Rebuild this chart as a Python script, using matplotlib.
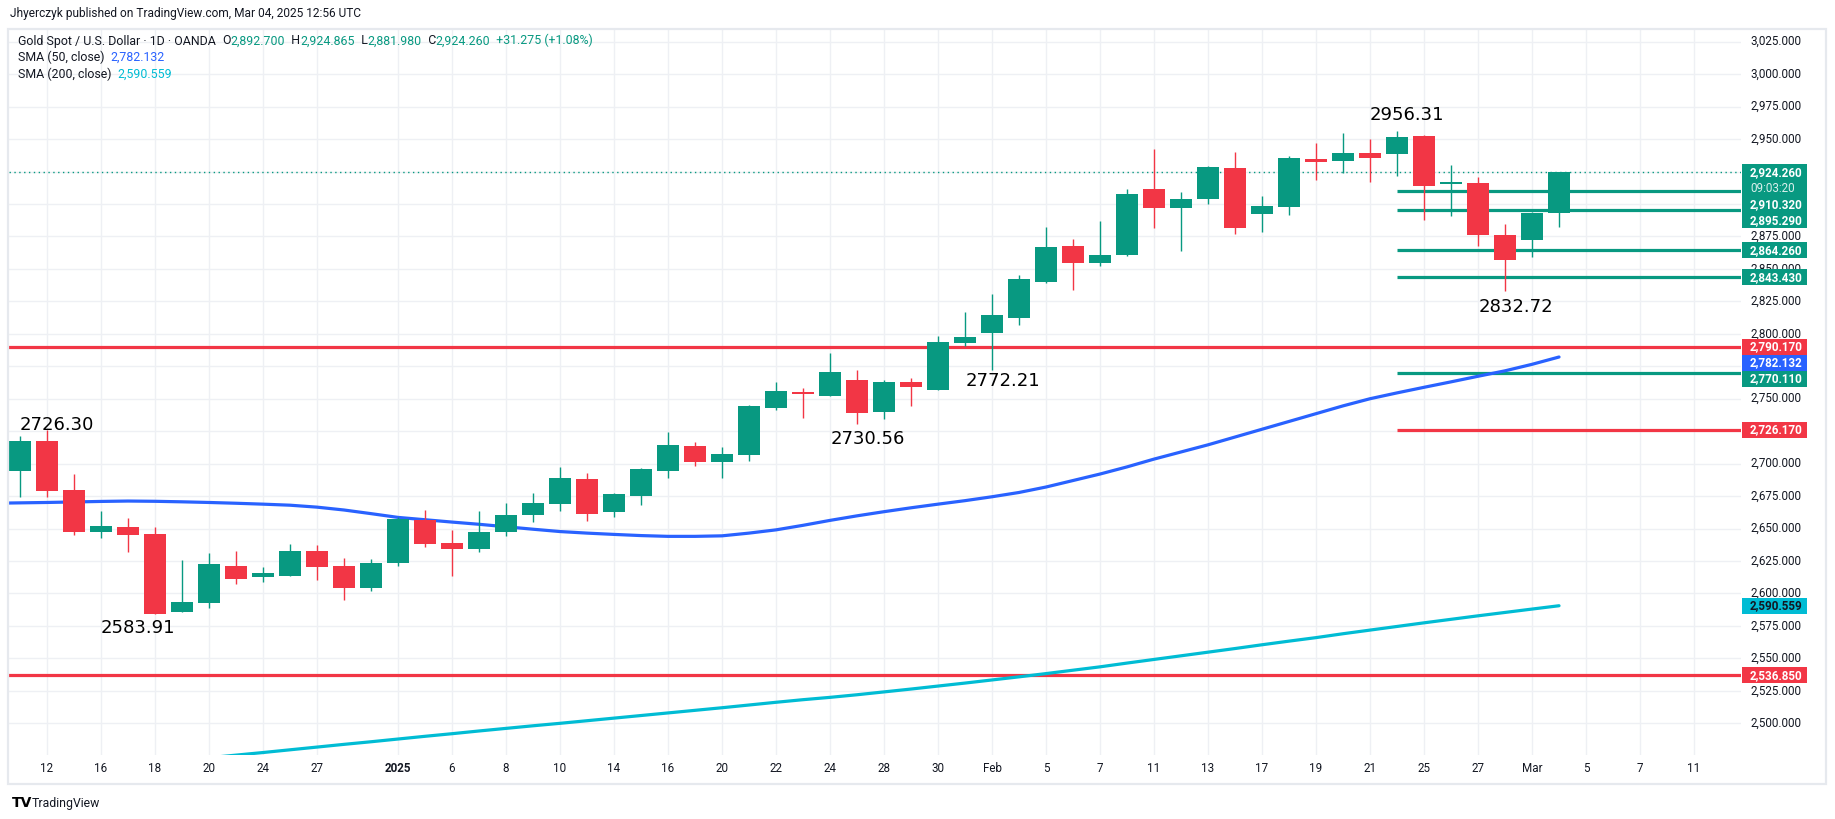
import matplotlib
matplotlib.use('Agg')
import matplotlib.pyplot as plt
from matplotlib.patches import Rectangle
from matplotlib.transforms import offset_copy

# ---------------- data ----------------
dates = (['2024-12-%02d' % d for d in [11, 12, 13, 16, 17, 18, 19, 20, 23, 24, 26, 27, 30, 31]] +
         ['2025-01-%02d' % d for d in [2, 3, 6, 7, 8, 9, 10, 13, 14, 15, 16, 17, 20, 21, 22, 23, 24, 27, 28, 29, 30, 31]] +
         ['2025-02-%02d' % d for d in [3, 4, 5, 6, 7, 10, 11, 12, 13, 14, 17, 18, 19, 20, 21, 24, 25, 26, 27, 28]] +
         ['2025-03-03', '2025-03-04'])
future_dates = ['2025-03-05', '2025-03-06', '2025-03-07', '2025-03-10', '2025-03-11']

opens = [2694.0, 2717.4, 2679.7, 2647.6, 2651.2, 2645.8, 2586.0, 2592.9, 2621.2, 2612.9,
         2613.7, 2632.7, 2621.2, 2604.5, 2623.7, 2656.8, 2638.9, 2634.5, 2647.6, 2660.7,
         2669.1, 2688.2, 2663.0, 2675.3, 2694.6, 2713.6, 2701.5, 2706.9, 2743.1, 2755.2,
         2752.3, 2764.4, 2740.0, 2762.9, 2757.0, 2793.2, 2800.9, 2812.4, 2840.1, 2867.6,
         2854.8, 2860.9, 2911.5, 2897.1, 2904.1, 2927.7, 2892.5, 2897.9, 2934.7, 2933.3,
         2939.3, 2938.7, 2952.6, 2915.6, 2916.4, 2876.1, 2872.3, 2892.7]
highs = [2721.0, 2726.3, 2692.0, 2663.5, 2658.0, 2651.2, 2625.8, 2631.2, 2632.7, 2620.4,
         2638.1, 2637.3, 2627.3, 2626.6, 2659.1, 2664.3, 2648.9, 2663.5, 2669.7, 2677.4,
         2697.4, 2692.8, 2677.4, 2696.9, 2724.4, 2716.7, 2712.8, 2745.2, 2762.9, 2758.3,
         2785.2, 2772.1, 2764.4, 2766.0, 2798.3, 2816.8, 2830.7, 2845.3, 2882.3, 2873.0,
         2886.9, 2911.5, 2942.4, 2909.2, 2929.3, 2940.1, 2906.2, 2937.0, 2947.1, 2954.8,
         2950.3, 2956.31, 2953.1, 2930.0, 2920.5, 2884.6, 2894.1, 2924.865]
lows = [2674.5, 2674.5, 2645.0, 2643.0, 2632.2, 2583.91, 2585.5, 2589.0, 2607.5, 2609.0,
        2613.2, 2610.4, 2595.0, 2602.2, 2621.4, 2636.1, 2613.7, 2632.2, 2644.5, 2655.3,
        2663.8, 2656.1, 2659.1, 2668.4, 2689.2, 2698.4, 2689.2, 2702.3, 2741.5, 2735.4,
        2751.8, 2730.56, 2734.6, 2744.6, 2756.5, 2790.8, 2772.21, 2807.0, 2839.4, 2834.0,
        2852.5, 2860.2, 2881.7, 2864.0, 2900.2, 2877.1, 2878.7, 2891.7, 2918.7, 2924.1,
        2917.2, 2921.8, 2887.7, 2890.7, 2867.6, 2832.72, 2858.9, 2881.98]
closes = [2717.4, 2679.2, 2647.6, 2652.0, 2645.0, 2584.5, 2593.4, 2622.7, 2611.4, 2615.6,
          2632.7, 2620.6, 2604.5, 2623.5, 2657.4, 2638.1, 2634.5, 2647.4, 2660.4, 2669.7,
          2689.0, 2661.5, 2676.6, 2695.9, 2714.4, 2701.5, 2707.5, 2744.4, 2756.0, 2753.9,
          2770.6, 2739.2, 2762.9, 2759.3, 2793.7, 2797.8, 2814.5, 2842.0, 2866.9, 2854.8,
          2860.7, 2907.7, 2897.1, 2903.8, 2928.5, 2881.7, 2898.4, 2935.4, 2932.6, 2939.3,
          2935.7, 2951.8, 2914.1, 2916.2, 2876.1, 2856.9, 2892.8, 2924.26]

# SMA 50 starts one bar before the first visible candle (2024-12-10)
sma50_start_offset = -1
sma50 = [2669.5, 2669.8, 2670.1, 2670.5, 2670.9, 2671.2, 2671.0, 2670.6, 2670.1, 2669.5,
         2668.8, 2668.0, 2666.5, 2664.3, 2661.5, 2658.6, 2656.8, 2655.0, 2653.3, 2651.4,
         2649.5, 2647.7, 2646.5, 2645.5, 2644.6, 2644.0, 2644.0, 2644.4, 2646.5, 2649.0,
         2652.5, 2656.3, 2659.8, 2663.0, 2666.0, 2668.8, 2671.5, 2674.5, 2677.8, 2682.0,
         2687.0, 2692.0, 2697.5, 2703.5, 2709.0, 2714.5, 2720.5, 2726.5, 2732.5, 2738.5,
         2744.5, 2750.0, 2754.5, 2758.8, 2763.0, 2767.3, 2771.5, 2776.5, 2782.132]
# SMA 200 values from bar index 7 onward (earlier part lies below the visible range)
sma200_start = 7
sma200 = [2473.5, 2475.5, 2477.5, 2479.6, 2481.7, 2483.8, 2485.8, 2487.9, 2490.0, 2492.0,
          2494.1, 2496.1, 2498.1, 2500.0, 2502.0, 2504.0, 2506.0, 2508.0, 2510.0, 2512.0,
          2514.1, 2516.2, 2518.2, 2520.0, 2522.0, 2524.2, 2526.4, 2528.7, 2531.0, 2533.4,
          2535.8, 2538.3, 2540.9, 2543.5, 2546.4, 2549.2, 2552.0, 2554.8, 2557.6, 2560.5,
          2563.3, 2566.0, 2569.0, 2571.8, 2574.6, 2577.4, 2580.1, 2582.8, 2585.4, 2588.0,
          2590.559]

red_full_levels = [2790.17, 2536.85]
green_levels = [2910.32, 2895.29, 2864.26, 2843.43, 2770.11]
red_partial_levels = [2726.17]
levels_start_date = '2025-02-24'

annot_dates = ['2024-12-12', '2024-12-18', '2025-01-27', '2025-02-03', '2025-02-24', '2025-02-28']
annot_kinds = ['high', 'low', 'low', 'low', 'high', 'low']
annot_values = [2726.30, 2583.91, 2730.56, 2772.21, 2956.31, 2832.72]

tick_dates = ['2024-12-12', '2024-12-16', '2024-12-18', '2024-12-20', '2024-12-24', '2024-12-27',
              '2025-01-02', '2025-01-06', '2025-01-08', '2025-01-10', '2025-01-14', '2025-01-16',
              '2025-01-20', '2025-01-22', '2025-01-24', '2025-01-28', '2025-01-30', '2025-02-03',
              '2025-02-05', '2025-02-07', '2025-02-11', '2025-02-13', '2025-02-17', '2025-02-19',
              '2025-02-21', '2025-02-25', '2025-02-27', '2025-03-03', '2025-03-05', '2025-03-07',
              '2025-03-11']
tick_labels = ['12', '16', '18', '20', '24', '27', '2025', '6', '8', '10', '14', '16', '20', '22',
               '24', '28', '30', 'Feb', '5', '7', '11', '13', '17', '19', '21', '25', '27', 'Mar',
               '5', '7', '11']
price_ticks = list(range(2500, 3026, 25))

countdown = '09:03:20'
change_abs = 31.275
change_pct = 1.08

# ---------------- style ----------------
GREEN = '#089981'
RED = '#F23645'
BLUE = '#2962FF'
CYAN = '#00BCD4'
TXT = '#131722'
GRID = '#EEF0F4'
FONT = ['Roboto', 'DejaVu Sans']
plt.rcParams['font.family'] = FONT

W, H, DPI = 1835, 819, 100
fig = plt.figure(figsize=(W / DPI, H / DPI), dpi=DPI)
fig.patch.set_facecolor('white')

PL, PT, PR, PB = 9, 30, 1741, 755
ax = fig.add_axes([PL / W, 1 - PB / H, (PR - PL) / W, (PB - PT) / H])
ax.set_xlim(-0.407, 63.74)
ax.set_ylim(2475.6, 3034.0)
for s in ax.spines.values():
    s.set_visible(False)
ax.set_xticks([])
ax.set_yticks([])

all_days = dates + future_dates
xs = list(range(len(dates)))

# grid
for p in price_ticks:
    ax.axhline(p, color=GRID, lw=1, zorder=0)
for d in tick_dates:
    ax.axvline(all_days.index(d), color=GRID, lw=1, zorder=0)

# levels
for v in red_full_levels:
    ax.axhline(v, color=RED, lw=2.3, zorder=3)
i0 = dates.index(levels_start_date)
for v in green_levels:
    ax.plot([i0, 70], [v, v], color=GREEN, lw=2.3, zorder=3, solid_capstyle='butt')
for v in red_partial_levels:
    ax.plot([i0, 70], [v, v], color=RED, lw=2.3, zorder=3, solid_capstyle='butt')

# current price dotted line
ax.axhline(closes[-1], color=GREEN, lw=1.0, ls=(0, (1, 2.5)), zorder=2)

# SMA lines
ax.plot([i + sma50_start_offset for i in range(len(sma50))], sma50, color=BLUE, lw=2.3, zorder=4,
        solid_capstyle='round')
ax.plot([sma200_start + i for i in range(len(sma200))], sma200, color=CYAN, lw=2.3, zorder=4,
        solid_capstyle='round')

# candles
for x, o, h, l, c in zip(xs, opens, highs, lows, closes):
    col = GREEN if c >= o else RED
    ax.vlines(x, l, h, color=col, lw=1.0, zorder=5)
    bot = min(o, c)
    hgt = max(abs(c - o), 1.6)
    if abs(c - o) < 1.6:
        bot = (o + c) / 2 - 0.8
    ax.bar(x, hgt, bottom=bot, width=0.78, color=col, linewidth=0, zorder=6)

# annotations of swing highs/lows
offsets = {2726.30: (10, 5), 2956.31: (10, 16), 2583.91: (-17, -14), 2730.56: (11, -15),
           2772.21: (11, -11), 2832.72: (11, -16)}
for d, k, v in zip(annot_dates, annot_kinds, annot_values):
    i = dates.index(d)
    yv = highs[i] if k == 'high' else lows[i]
    dx, dy = offsets[v]
    tr = offset_copy(ax.transData, fig=fig, x=dx, y=dy, units='dots')
    ax.text(i, yv, f'{v:.2f}', transform=tr, ha='center', va='center', fontsize=13,
            family='DejaVu Sans', color='black', zorder=8)

# ---------------- overlay in pixel coordinates ----------------
ov = fig.add_axes([0, 0, 1, 1], zorder=10)
ov.set_xlim(0, W)
ov.set_ylim(H, 0)
ov.axis('off')
ov.patch.set_alpha(0)

# frame
ov.add_patch(Rectangle((8, 29), 1818, 755, fill=False, edgecolor='#E6E9EE', lw=1.6))


def ypix(p):
    return H - ax.transData.transform((0, p))[1]


def xpix(i):
    return ax.transData.transform((i, 0))[0]


# price axis tick labels
for p in price_ticks:
    ov.text(1750, ypix(p), f'{p:,.3f}', fontsize=8.4, color=TXT, va='center', ha='left')

# time axis labels
for d, lab in zip(tick_dates, tick_labels):
    ov.text(xpix(all_days.index(d)), 769, lab, fontsize=8.4, color=TXT, ha='center', va='center',
            fontweight='bold' if lab == '2025' else 'normal')

# price tags (stacked so they do not overlap)
tags = [(closes[-1], GREEN, 'white', [f'{closes[-1]:,.3f}', countdown])]
tags += [(v, GREEN, 'white', [f'{v:,.3f}']) for v in green_levels]
tags += [(v, RED, 'white', [f'{v:,.3f}']) for v in red_full_levels + red_partial_levels]
tags += [(sma50[-1], BLUE, 'white', [f'{sma50[-1]:,.3f}']),
         (sma200[-1], CYAN, TXT, [f'{sma200[-1]:,.3f}'])]
tags.sort(key=lambda t: -t[0])
LH = 16
prev_bottom = -1e9
for v, col, tcol, lines in tags:
    top = max(ypix(v) - LH / 2, prev_bottom)
    hgt = LH * len(lines)
    ov.add_patch(Rectangle((1742, top), 65, hgt, facecolor=col, edgecolor='none', zorder=20))
    for k, line in enumerate(lines):
        ov.text(1750, top + LH / 2 + k * LH, line, fontsize=8.4, color=tcol, va='center', ha='left',
                fontweight='bold' if k == 0 else 'normal', alpha=1 if k == 0 else 0.85, zorder=21)
    prev_bottom = top + hgt

# header
ov.text(10, 14, 'Jhyerczyk published on TradingView.com, Mar 04, 2025 12:56 UTC', fontsize=8.6,
        color=TXT, va='center', ha='left')


# legend (chained text pieces)
def chain(pieces, x, y, fs=8.9):
    t = ov.text(x, y, pieces[0][0], fontsize=fs, color=pieces[0][1], va='center', ha='left')
    for s, c in pieces[1:]:
        t = ov.annotate(s, xy=(1, 0), xycoords=t, va='bottom', ha='left', fontsize=fs, color=c)


o, h, l, c = opens[-1], highs[-1], lows[-1], closes[-1]
chain([('Gold Spot / U.S. Dollar · 1D · OANDA  ', TXT), ('O', TXT), (f'{o:,.3f}', GREEN),
       ('  H', TXT), (f'{h:,.3f}', GREEN), ('  L', TXT), (f'{l:,.3f}', GREEN), ('  C', TXT),
       (f'{c:,.3f}', GREEN), (f'  +{change_abs:.3f} (+{change_pct:.2f}%)', GREEN)], 18, 41)
chain([('SMA (50, close)  ', TXT), (f'{sma50[-1]:,.3f}', BLUE)], 18, 57)
chain([('SMA (200, close)  ', TXT), (f'{sma200[-1]:,.3f}', CYAN)], 18, 74)

# footer logo
ov.text(12, 803, 'TV', fontsize=10, fontweight='heavy', color='black', va='center', ha='left',
        family='DejaVu Sans')
ov.text(32, 803, 'TradingView', fontsize=8.8, color=TXT, va='center', ha='left')

fig.savefig('out.png', dpi=DPI, facecolor='white')
